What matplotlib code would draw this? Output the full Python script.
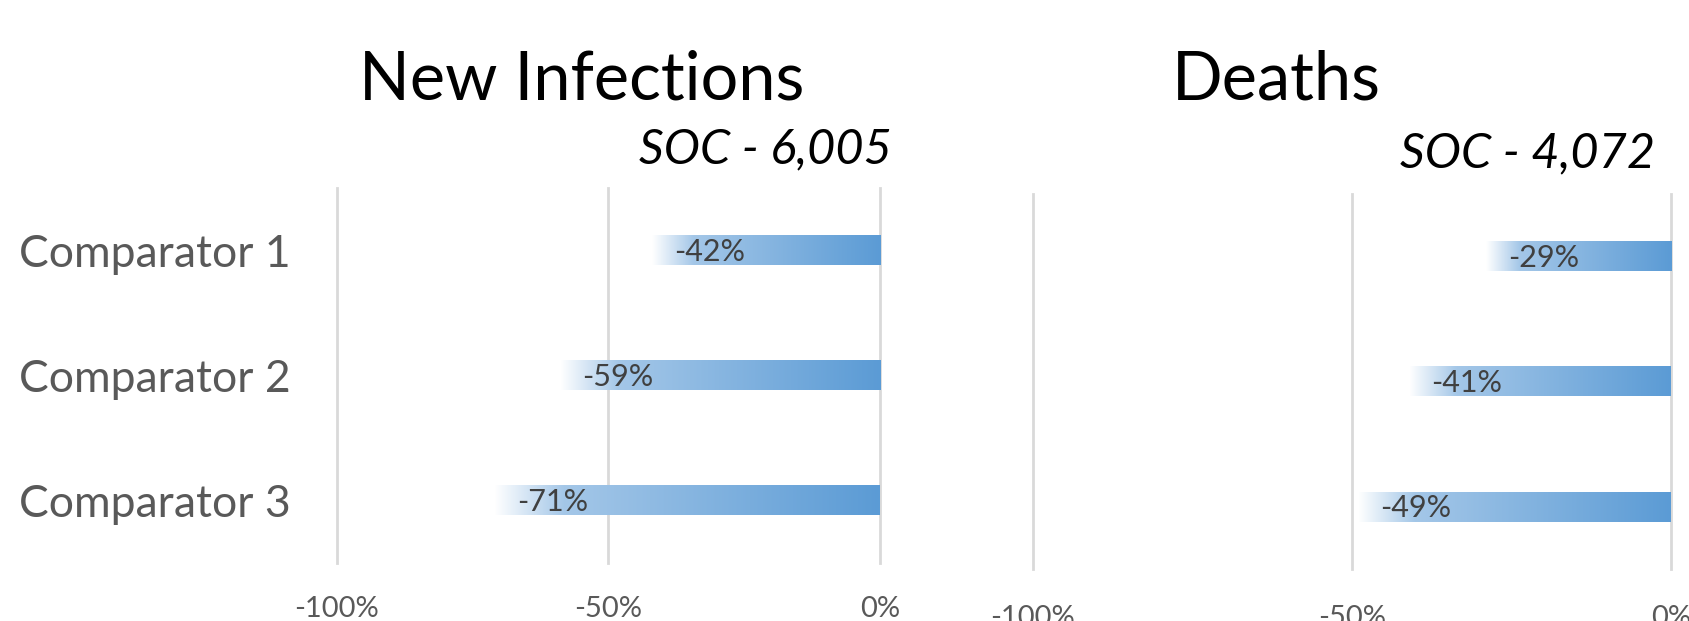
#importing the relevant modules
import matplotlib.pyplot as plt
import numpy as np
from matplotlib.colors import LinearSegmentedColormap

#chart data
categories = ["Comparator 1", "Comparator 2", "Comparator 3"]
infections = [-0.42, -0.59, -0.71]
deaths = [-0.29, -0.41, -0.49]
ticks = [-1.0, -0.5, 0.0]
tick_labels = ["-100%", "-50%", "0%"]

plt.rcParams['font.family'] = ['Lato', 'DejaVu Sans']

grey = "#595959"
grad = LinearSegmentedColormap.from_list("g", [(0, "#ffffff"), (0.18, "#a4c7e8"), (1, "#5b9bd5")])

fig = plt.figure(figsize=(16.89, 6.21), dpi=100)
ax1 = fig.add_axes([0.1995, 0.0934, 0.3215, 0.604])
ax2 = fig.add_axes([0.6116, 0.0837, 0.3777, 0.604])


#function to draw one panel
def panel(ax, values, show_cats, tick_pad):
    bars = ax.barh(categories, values, height=0.24, color="none", edgecolor="none")
    g = np.linspace(0, 1, 256).reshape(1, -1)
    for b, v in zip(bars, values):
        x0, y0 = b.get_x(), b.get_y()
        w, h = b.get_width(), b.get_height()
        #gradient fill, white at the far end, blue at zero
        im = ax.imshow(g, cmap=grad, aspect="auto", interpolation="bilinear", zorder=2,
                       extent=[min(x0, x0 + w), max(x0, x0 + w), y0 + h, y0])
        im.set_clip_path(b)
        ax.annotate(f"{v:.0%}", xy=(v, b.get_y() + h / 2), xytext=(16, -1),
                    textcoords="offset points", ha="left", va="center",
                    fontsize=22, color="#404040", zorder=3)
    ax.set_xlim(-1.0, 0.0)
    ax.set_ylim(2.5, -0.5)
    ax.set_xticks(ticks)
    ax.set_xticklabels(tick_labels)
    ax.xaxis.grid(True, color="#d9d9d9", linewidth=2)
    for ln in ax.get_xgridlines():
        ln.set_clip_on(False)
    ax.set_axisbelow(True)
    for s in ax.spines.values():
        s.set_visible(False)
    ax.tick_params(axis="x", length=0, pad=tick_pad, labelsize=21, labelcolor=grey)
    ax.tick_params(axis="y", length=0, pad=33, labelsize=32, labelcolor=grey)
    if not show_cats:
        ax.set_yticklabels([])


panel(ax1, infections, True, 24)
panel(ax2, deaths, False, 26)

#titles
fig.text(0.3446, 0.839, "New Infections", ha="center", va="baseline", fontsize=48)
fig.text(0.7555, 0.839, "Deaths", ha="center", va="baseline", fontsize=48)
fig.text(0.528, 0.7375, "SOC - 6,005", ha="right", va="baseline", fontsize=35, style="italic")
fig.text(0.980, 0.731, "SOC - 4,072", ha="right", va="baseline", fontsize=35, style="italic")

fig.savefig("out.png", dpi=100)
